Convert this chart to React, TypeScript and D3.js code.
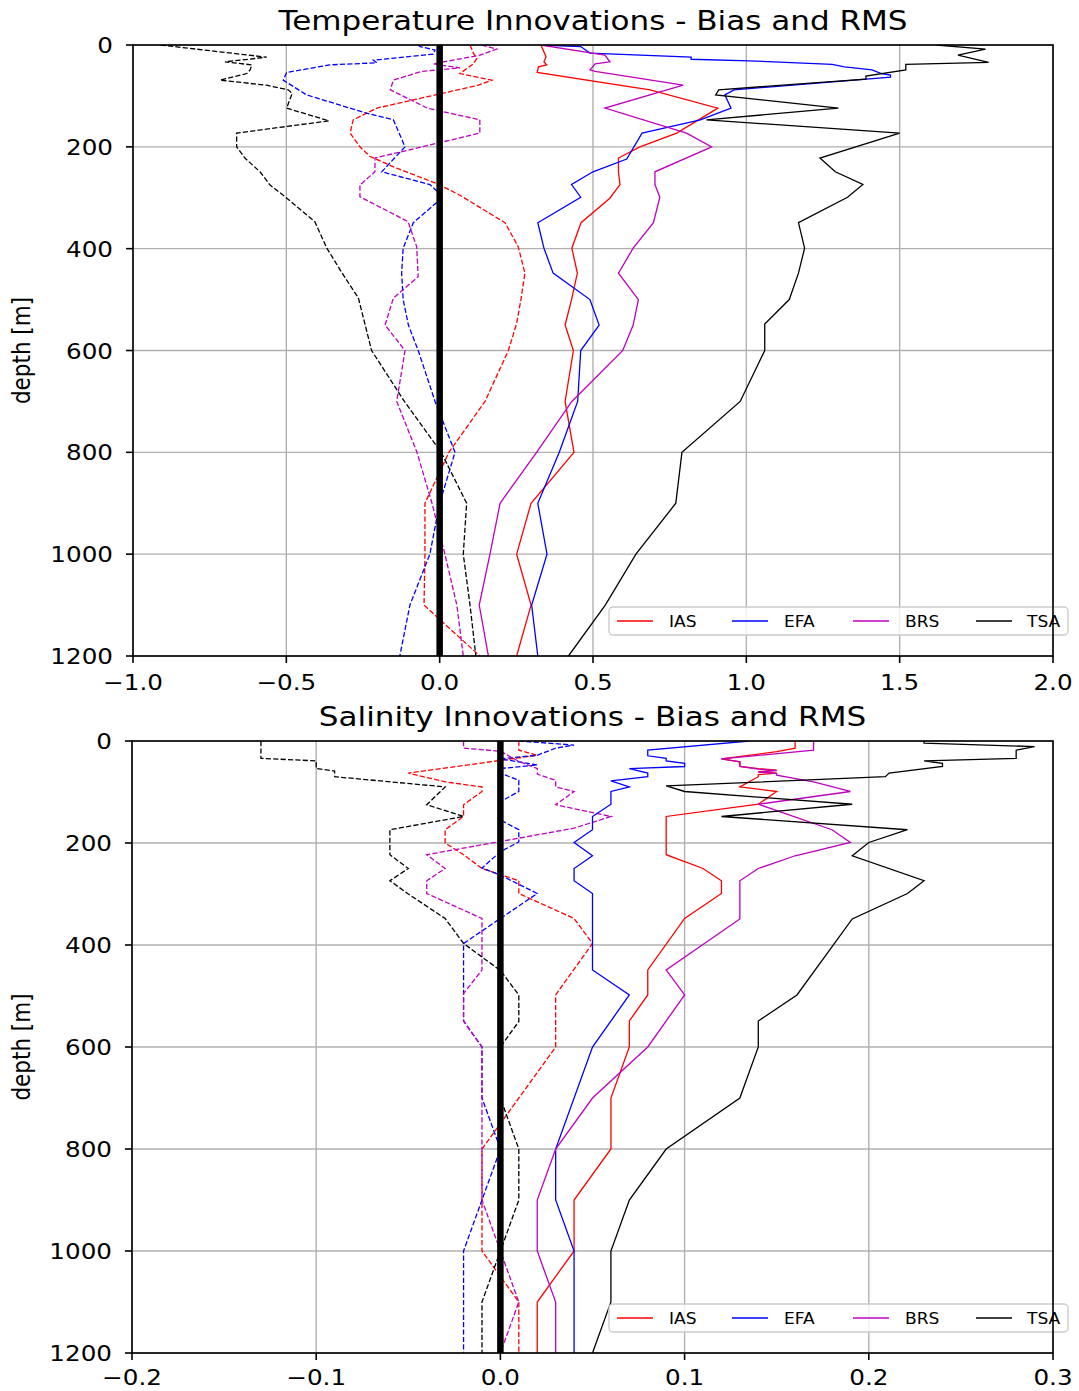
import React from "react";
import * as d3 from "d3";

type P = [number, number][]; // [depth, value]

const depthTicks = [0, 200, 400, 600, 800, 1000, 1200];
const tempTicks = [-1.0, -0.5, 0, 0.5, 1.0, 1.5, 2.0];
const salTicks = [-0.2, -0.1, 0, 0.1, 0.2, 0.3];
const models = ["IAS", "EFA", "BRS", "TSA"];
const modelColors = ["#ff0000", "#0000ff", "#bf00bf", "#000000"];

// ---- Temperature RMS (solid)
const tempIasRms: P = [[0,0.33],[23,0.347],[33,0.34],[39,0.349],[43,0.322],[54,0.318],[88,0.686],[124,0.907],[173,0.773],[200,0.653],[222,0.583],[249,0.583],[274,0.588],[301,0.555],[349,0.461],[399,0.431],[448,0.449],[500,0.43],[550,0.409],[600,0.436],[700,0.409],[800,0.438],[900,0.298],[1000,0.251],[1100,0.298],[1200,0.251]];
const tempEfaRms: P = [[0,0.33],[3,0.46],[16,0.49],[24,0.82],[28,0.82],[31,1.01],[38,1.28],[43,1.32],[49,1.41],[56,1.44],[59,1.47],[63,1.47],[88,0.96],[98,0.93],[124,0.95],[147,0.85],[173,0.66],[224,0.61],[249,0.5],[274,0.43],[299,0.46],[349,0.32],[399,0.34],[448,0.37],[500,0.49],[550,0.52],[600,0.46],[700,0.45],[800,0.39],[900,0.32],[1000,0.35],[1100,0.3],[1200,0.32]];
const tempBrsRms: P = [[0,0.33],[20,0.539],[33,0.555],[37,0.507],[49,0.49],[52,0.507],[79,0.794],[124,0.539],[173,0.805],[200,0.887],[249,0.702],[274,0.702],[299,0.718],[349,0.697],[399,0.631],[448,0.583],[500,0.648],[550,0.631],[600,0.597],[700,0.431],[800,0.316],[900,0.197],[1000,0.164],[1100,0.129],[1200,0.159]];
const tempTsaRms: P = [[0,1.62],[8,1.78],[20,1.69],[34,1.79],[38,1.52],[49,1.52],[61,1.39],[67,1.39],[88,0.91],[98,0.9],[124,1.3],[147,0.87],[173,1.5],[222,1.24],[249,1.29],[274,1.38],[299,1.33],[349,1.17],[399,1.19],[448,1.17],[500,1.14],[548,1.06],[600,1.06],[700,0.98],[800,0.79],[900,0.77],[1000,0.64],[1100,0.54],[1200,0.42]];

// ---- Temperature bias (dashed)
const tempIasBias: P = [[0,0.099],[16,0.11],[26,0.121],[37,0.11],[56,0.066],[69,0.17],[79,0.126],[124,-0.205],[147,-0.282],[173,-0.292],[200,-0.26],[219,-0.227],[242,-0.14],[272,-0.01],[295,0.066],[349,0.213],[396,0.256],[448,0.278],[500,0.265],[547,0.251],[600,0.224],[700,0.148],[800,0.03],[900,-0.048],[1000,-0.048],[1100,-0.051],[1200,0.131]];
const tempEfaBias: P = [[0,-0.07],[3,-0.064],[10,-0.015],[18,-0.021],[30,-0.216],[35,-0.205],[39,-0.358],[54,-0.499],[69,-0.51],[98,-0.434],[134,-0.238],[147,-0.151],[200,-0.113],[249,-0.189],[274,-0.032],[298,0.012],[349,-0.086],[399,-0.119],[448,-0.124],[500,-0.119],[550,-0.102],[600,-0.07],[700,-0.015],[800,0.05],[900,0.0],[1000,-0.032],[1100,-0.097],[1200,-0.13]];
const tempBrsBias: P = [[0,0.137],[8,0.186],[20,0.131],[37,-0.021],[45,0.066],[52,-0.06],[69,-0.151],[88,-0.161],[124,-0.04],[147,0.131],[173,0.131],[222,-0.211],[249,-0.211],[275,-0.26],[298,-0.26],[347,-0.103],[396,-0.075],[455,-0.07],[497,-0.151],[550,-0.178],[600,-0.113],[700,-0.14],[800,-0.074],[900,-0.025],[1000,0.017],[1100,0.056],[1200,0.077]];
const tempTsaBias: P = [[0,-0.91],[24,-0.564],[33,-0.7],[39,-0.613],[49,-0.618],[56,-0.629],[69,-0.716],[79,-0.564],[88,-0.494],[95,-0.481],[124,-0.499],[149,-0.361],[173,-0.662],[200,-0.662],[222,-0.635],[249,-0.586],[275,-0.553],[298,-0.504],[347,-0.407],[399,-0.368],[448,-0.318],[497,-0.265],[600,-0.222],[700,-0.115],[800,0.005],[900,0.088],[1000,0.077],[1100,0.099],[1200,0.118]];

// ---- Salinity RMS (solid)
const salIasRms: P = [[0,0.16],[4,0.16],[14,0.16],[21,0.15],[35,0.12],[41,0.13],[50,0.13],[54,0.14],[57,0.15],[60,0.14],[63,0.15],[66,0.14],[70,0.14],[90,0.13],[99,0.15],[124,0.14],[148,0.09],[223,0.09],[250,0.11],[274,0.12],[299,0.12],[348,0.1],[449,0.08],[498,0.08],[549,0.07],[600,0.07],[700,0.06],[800,0.06],[900,0.04],[1000,0.04],[1100,0.02],[1200,0.02]];
const salEfaRms: P = [[0,0.135],[18,0.08],[29,0.08],[34,0.09],[39,0.09],[44,0.1],[50,0.1],[54,0.07],[63,0.08],[70,0.08],[78,0.06],[90,0.07],[99,0.06],[124,0.06],[148,0.05],[174,0.05],[199,0.04],[225,0.05],[250,0.04],[274,0.04],[299,0.05],[449,0.05],[498,0.07],[600,0.05],[800,0.03],[900,0.03],[1000,0.04],[1200,0.04]];
const salBrsRms: P = [[0,0.17],[3,0.17],[18,0.17],[35,0.12],[41,0.13],[50,0.13],[55,0.14],[58,0.15],[61,0.14],[64,0.15],[67,0.15],[80,0.17],[99,0.19],[124,0.14],[174,0.18],[199,0.19],[225,0.16],[250,0.14],[274,0.13],[349,0.13],[449,0.09],[498,0.1],[600,0.08],[700,0.05],[800,0.03],[900,0.02],[1000,0.02],[1100,0.03],[1200,0.03]];
const salTsaRms: P = [[0,0.23],[4,0.23],[11,0.29],[18,0.28],[34,0.28],[39,0.23],[44,0.24],[50,0.24],[63,0.211],[70,0.209],[88,0.09],[99,0.1],[124,0.191],[148,0.12],[174,0.221],[199,0.2],[225,0.191],[274,0.23],[299,0.221],[349,0.191],[498,0.161],[549,0.14],[600,0.14],[700,0.13],[800,0.09],[900,0.07],[1000,0.06],[1100,0.06],[1200,0.05]];

// ---- Salinity bias (dashed)
const salIasBias: P = [[0,0.01],[18,0.01],[28,0.02],[63,-0.05],[80,-0.03],[90,-0.01],[99,-0.01],[125,-0.02],[148,-0.02],[174,-0.03],[200,-0.03],[223,-0.02],[250,-0.01],[274,0.01],[299,0.01],[348,0.04],[397,0.05],[498,0.03],[600,0.03],[700,0.01],[800,-0.01],[900,-0.01],[1000,-0.01],[1100,0.01],[1200,0.01]];
const salEfaBias: P = [[0,0.01],[8,0.04],[14,0.03],[28,0.02],[35,0.0],[47,0.02],[54,0.0],[63,0.0],[77,0.01],[99,0.01],[119,0.0],[155,0.0],[174,0.01],[198,0.01],[217,0.0],[249,-0.01],[263,0.0],[299,0.02],[397,-0.02],[498,-0.02],[549,-0.02],[600,-0.01],[700,-0.01],[800,0.0],[900,-0.01],[1000,-0.02],[1100,-0.02],[1200,-0.02]];
const salBrsBias: P = [[0,-0.02],[14,-0.02],[20,0.0],[40,0.01],[54,0.02],[65,0.02],[77,0.03],[90,0.03],[99,0.04],[125,0.03],[148,0.06],[171,0.04],[223,-0.04],[250,-0.03],[274,-0.04],[299,-0.04],[348,-0.01],[449,-0.01],[495,-0.02],[549,-0.02],[600,-0.01],[700,-0.01],[800,-0.01],[900,-0.01],[1000,0.0],[1100,0.01],[1200,0.0]];
const salTsaBias: P = [[0,-0.13],[9,-0.13],[34,-0.13],[39,-0.1],[54,-0.1],[59,-0.09],[70,-0.09],[90,-0.03],[125,-0.04],[148,-0.02],[174,-0.06],[223,-0.06],[250,-0.05],[274,-0.06],[300,-0.05],[348,-0.03],[397,-0.02],[450,0.0],[498,0.01],[550,0.01],[600,0.0],[700,0.0],[800,0.01],[900,0.01],[1000,0.0],[1100,-0.01],[1200,-0.01]];

const W = 1079;
const H = 1391;
const FONT = "DejaVu Sans, sans-serif";
const SX = 1.12;

type Box = { l: number; r: number; t: number; b: number };

function SText(props: { x: number; y: number; size: number; anchor: string; children: any; sx?: number }) {
  const s = props.sx ?? SX;
  return (
    <g transform={`translate(${props.x},${props.y}) scale(${s},1)`}>
      <text x={0} y={0} fontSize={props.size} fontFamily={FONT} textAnchor={props.anchor} fill="#000">
        {props.children}
      </text>
    </g>
  );
}

function Panel(props: {
  id: string;
  title: string;
  box: Box;
  xDomain: [number, number];
  xTicks: number[];
  rms: P[];
  bias: P[];
  tickDy: number;
}) {
  const { box } = props;
  const x = d3.scaleLinear().domain(props.xDomain).range([box.l, box.r]);
  const y = d3.scaleLinear().domain([0, 1200]).range([box.t, box.b]);
  const line = d3.line<[number, number]>().x((d) => x(d[1])).y((d) => y(d[0]));
  const fmt = d3.format(".1f");
  const lw = 1.3;
  const legL = box.r - 444;
  const legT = box.b - 49;
  const lineOff = [8, 123, 244, 367];
  const textOff = [60, 175, 296, 418];
  const legY = legT + 14;
  return (
    <g>
      <defs>
        <clipPath id={props.id}>
          <rect x={box.l} y={box.t} width={box.r - box.l} height={box.b - box.t} />
        </clipPath>
      </defs>
      <rect x={box.l} y={box.t} width={box.r - box.l} height={box.b - box.t} fill="#fff" />
      {props.xTicks.map((t) => (
        <line key={"gx" + t} x1={x(t)} x2={x(t)} y1={box.t} y2={box.b} stroke="#b0b0b0" strokeWidth={1.4} />
      ))}
      {depthTicks.map((t) => (
        <line key={"gy" + t} x1={box.l} x2={box.r} y1={y(t)} y2={y(t)} stroke="#b0b0b0" strokeWidth={1.4} />
      ))}
      <g clipPath={`url(#${props.id})`}>
        {props.bias.map((s, i) => (
          <path key={"b" + i} d={line(s) || ""} fill="none" stroke={modelColors[i]} strokeWidth={lw} strokeDasharray="5.2,2.2" />
        ))}
        {props.rms.map((s, i) => (
          <path key={"r" + i} d={line(s) || ""} fill="none" stroke={modelColors[i]} strokeWidth={lw} />
        ))}
        <line x1={x(0)} x2={x(0)} y1={box.t} y2={box.b} stroke="#000" strokeWidth={6.5} />
      </g>
      <rect x={legL} y={legT} width={459} height={28} rx={4} ry={4} fill="#fff" fillOpacity={0.8} stroke="#cccccc" strokeWidth={1.4} />
      {models.map((m, i) => (
        <g key={"lg" + m}>
          <line x1={legL + lineOff[i]} x2={legL + lineOff[i] + 36} y1={legY} y2={legY} stroke={modelColors[i]} strokeWidth={lw} />
          <SText x={legL + textOff[i]} y={legY + 5.6} size={15.5} anchor="start" sx={1.1}>{m}</SText>
        </g>
      ))}
      <rect x={box.l} y={box.t} width={box.r - box.l} height={box.b - box.t} fill="none" stroke="#000" strokeWidth={1.6} />
      {props.xTicks.map((t) => (
        <g key={"tx" + t}>
          <line x1={x(t)} x2={x(t)} y1={box.b} y2={box.b + 7} stroke="#000" strokeWidth={1.6} />
          <SText x={x(t)} y={box.b + props.tickDy} size={22} anchor="middle">{fmt(t)}</SText>
        </g>
      ))}
      {depthTicks.map((t) => (
        <g key={"ty" + t}>
          <line x1={box.l - 7} x2={box.l} y1={y(t)} y2={y(t)} stroke="#000" strokeWidth={1.6} />
          <SText x={box.l - 20} y={y(t) + 8} size={22} anchor="end">{String(t)}</SText>
        </g>
      ))}
      <g transform={`translate(29.5,${(box.t + box.b) / 2}) scale(${SX},1) rotate(-90)`}>
        <text x={0} y={0} fontSize={21.5} fontFamily={FONT} textAnchor="middle" fill="#000">depth [m]</text>
      </g>
      <SText x={(box.l + box.r) / 2} y={box.t - 15} size={27} anchor="middle" sx={1.15}>{props.title}</SText>
    </g>
  );
}

export default function App() {
  return (
    <svg width={W} height={H} style={{ position: "absolute", left: 0, top: 0, background: "#fff" }} xmlns="http://www.w3.org/2000/svg">
      <rect x={0} y={0} width={W} height={H} fill="#fff" />
      <Panel
        id="clipTop"
        title="Temperature Innovations - Bias and RMS"
        box={{ l: 133, r: 1053, t: 45, b: 656 }}
        xDomain={[-1.0, 2.0]}
        xTicks={tempTicks}
        rms={[tempIasRms, tempEfaRms, tempBrsRms, tempTsaRms]}
        bias={[tempIasBias, tempEfaBias, tempBrsBias, tempTsaBias]}
        tickDy={34}
      />
      <Panel
        id="clipBot"
        title="Salinity Innovations - Bias and RMS"
        box={{ l: 132, r: 1053, t: 741, b: 1353 }}
        xDomain={[-0.2, 0.3]}
        xTicks={salTicks}
        rms={[salIasRms, salEfaRms, salBrsRms, salTsaRms]}
        bias={[salIasBias, salEfaBias, salBrsBias, salTsaBias]}
        tickDy={32}
      />
    </svg>
  );
}
